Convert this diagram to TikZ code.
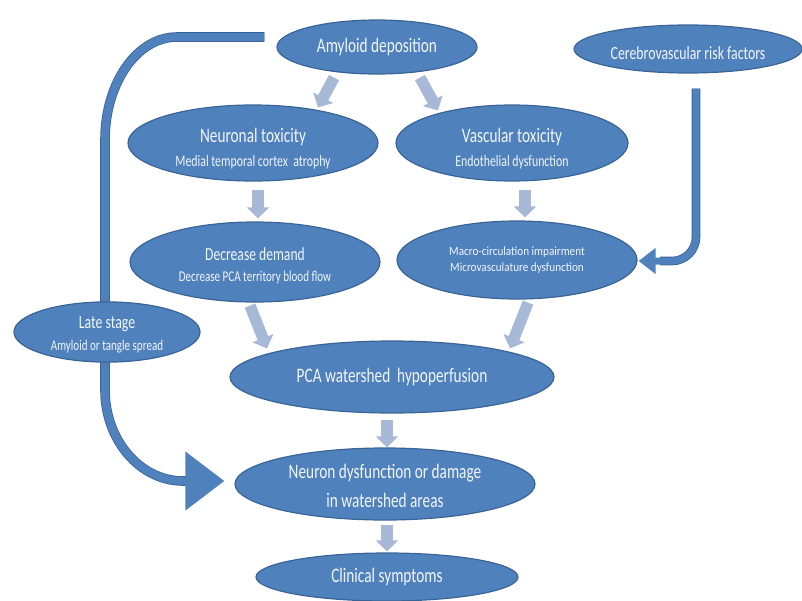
\documentclass[tikz,border=0pt]{standalone}
\usepackage{fontspec}
\setmainfont{Carlito}[FakeStretch=0.74]
\newfontfamily\macfont{Carlito}[FakeStretch=0.89]
\usetikzlibrary{shapes.geometric,arrows.meta,calc,backgrounds}
\definecolor{nodeblue}{HTML}{4F81BD}
\definecolor{edgeblue}{HTML}{3A6496}
\definecolor{grayarr}{HTML}{A8B9D8}
\definecolor{txtwhite}{HTML}{F2F5FA}
\newcommand\HeadF{\fontsize{15.5}{19}\selectfont}
\newcommand\SubF{\fontsize{12}{14}\selectfont}
\newcommand\SmallF{\fontsize{11.2}{14}\selectfont}
\newcommand\TopStrut[1]{\rule{0pt}{#1}}
\begin{document}
\begin{tikzpicture}[x=0.75pt,y=-0.75pt,
  bub/.style 2 args={ellipse, fill=nodeblue, draw=edgeblue, line width=0.9pt, text=txtwhite, inner sep=0pt, align=center, minimum width=#1*0.75pt, minimum height=#2*0.75pt},
  gar/.style={draw=grayarr, line width=8.5pt, -{Triangle[width=16.5pt,length=8.25pt]}},
  conn/.style={draw=nodeblue, line width=#1, preaction={draw=edgeblue, line width=#1+1.2pt, arrows=-, shorten >=16pt}},
]
\useasboundingbox (0,0) rectangle (802,600);

\node[bub={200}{54}, font=\HeadF] (amy) at (377,47) {Amyloid deposition};
\node[bub={228}{48}, font=\fontsize{14}{17}\selectfont] (cer) at (688,49) {\TopStrut{16pt}Cerebrovascular risk factors};
\node[bub={250}{76}, font=\HeadF] (neu) at (253,143) {\TopStrut{19pt}Neuronal toxicity\\[-1pt]\SubF Medial temporal cortex\ \ atrophy};
\node[bub={232}{76}, font=\HeadF] (vas) at (512,143) {\TopStrut{19pt}Vascular toxicity\\[-1pt]\SubF Endothelial dysfunction};
\node[bub={250}{80}, font=\fontsize{13.8}{17}\selectfont] (dec) at (255,262) {\TopStrut{15.5pt}Decrease demand\\[-1.5pt]\SmallF Decrease PCA territory blood flow};
\node[bub={240}{78}, font=\macfont\fontsize{9.4}{11}\selectfont] (mac) at (517,260) {Macro-circulation impairment\\[1pt]Microvasculature dysfunction};
\node[bub={186}{60}, font=\fontsize{14}{17}\selectfont] (late) at (107,332) {\TopStrut{13.5pt}Late stage\\[-0.5pt]\SmallF Amyloid or tangle spread};
\node[bub={324}{72}, font=\HeadF] (pca) at (392,377) {PCA watershed\ \ hypoperfusion};
\node[bub={300}{72}, font=\HeadF] (ndam) at (385,484) {\TopStrut{14pt}Neuron dysfunction or damage\\[3pt]in watershed areas};
\node[bub={262}{48}, font=\HeadF] (clin) at (387,577) {Clinical symptoms};

\begin{scope}[on background layer]
  % grey block arrows
  \draw[gar] ($(amy.south)+(-43,3)$) -- ($(neu.north)+(65,3)$);
  \draw[gar] ($(amy.south)+(43,3)$) -- ($(vas.north)+(-74,6)$);
  \draw[gar] ($(neu.south)+(5,8)$) -- ($(dec.north)+(3,-3)$);
  \draw[gar] ($(vas.south)+(13,8)$) -- ($(mac.north)+(8,-3)$);
  \draw[gar] ($(dec.south)+(-5,3)$) -- ($(pca.north)+(-125,8)$);
  \draw[gar] ($(mac.south)+(11,3)$) -- ($(pca.north)+(118,8)$);
  \draw[gar] ($(pca.south)+(-5,6)$) -- ($(ndam.north)+(2,0)$);
  \draw[gar] ($(ndam.south)+(2,4)$) -- ($(clin.north)+(0,-1)$);
  % big blue connectors
  \coordinate (ls) at ($(amy.west)+(-12,-10)$);
  \coordinate (le) at ($(ndam.west)+(-10,-3)$);
  \draw[conn=6pt, -{Triangle[width=42.75pt,length=29.25pt]}]
    (ls) -- (177,37) .. controls (137,37) and (105,83) .. (105,140)
    -- (105,390) .. controls (105,440) and (140,481) .. (183,481) -- (le);
  \coordinate (rs) at ($(cer.south)+(8,15)$);
  \draw[conn=5.25pt, -{Triangle[width=18.75pt,length=12.75pt]}, rounded corners=18pt]
    (rs) |- ($(mac.east)+(1,1)$);
\end{scope}
\end{tikzpicture}
\end{document}
